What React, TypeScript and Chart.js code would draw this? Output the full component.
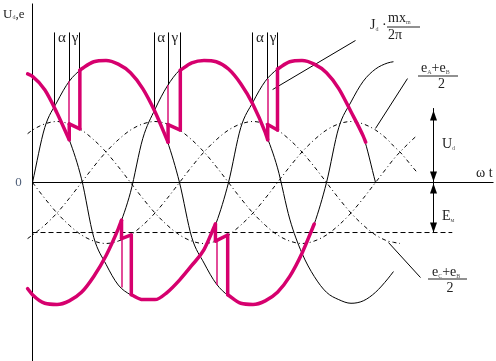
import React, { useEffect, useRef } from "react";
import { Chart, registerables } from "chart.js";
Chart.register(...registerables);

// ωt in electrical degrees (grid of readings)
const wt = [-6, 0, 15, 30, 45, 60, 75, 90, 105, 120, 135, 150, 165, 180, 195, 210, 225, 240, 255, 270, 285, 300, 315, 330, 345, 360, 375, 390, 405, 420, 435, 442, 450, 465, 470];

// phase voltages (relative to amplitude)
const eA = [null, 0, .45, .66, .83, .93, .99, 1.0, .97, .90, .77, .58, .34, 0, -.45, -.66, -.83, -.93, -.99, -1.0, -.97, -.90, -.77, -.58, -.34, 0, .45, .66, .83, .93, .98, .99, null, null, null];
const eB = [-.87, -.92, -.99, -1.0, -.97, -.90, -.77, -.60, -.38, -.08, .36, .60, .79, .92, .98, 1.0, .99, .93, .81, .64, .41, .12, -.30, -.58, -.77, -.90, -.96, -.99, -.97, -.90, -.79, -.73, null, null, null];
const eC = [.89, .87, .76, .57, .35, .03, -.45, -.67, -.84, -.92, -.96, -.96, -.90, -.80, -.68, -.55, -.33, 0, .45, .66, .83, .93, .99, 1.0, .97, .90, .77, .58, .38, 0, null, null, null, null, null];

// half sums (commutation voltages)
const halfAC = [.40, .43, .48, .50, .48, .43, .35, .25, .13, 0, -.13, -.25, -.35, -.43, -.48, -.50, -.48, -.43, -.35, -.25, -.13, 0, .13, .25, .35, .43, .48, .50, .48, .43, .35, .30, .25, .13, .09];
const halfAB = [-.46, -.43, -.35, -.25, -.13, 0, .13, .25, .35, .43, .48, .50, .48, .43, .35, .25, .13, 0, -.13, -.25, -.35, -.43, -.48, -.50, -.48, -.43, -.35, -.25, -.13, 0, .13, .19, .25, .35, .38];
const halfBC = [null, 0, -.13, -.25, -.35, -.43, -.48, -.50, -.48, -.43, -.35, -.25, -.13, 0, .13, .25, .35, .43, .48, .50, .48, .43, .35, .25, .13, 0, -.13, -.25, -.35, -.43, -.48, -.49, -.50, null, null];

// rectified output (upper / lower envelopes with commutation notches)
const pinkTopDeg = [-6, 0, 15, 30, 45, 45, 58, 58, 60, 75, 90, 105, 120, 135, 150, 166, 166, 181, 181, 195, 210, 225, 240, 255, 270, 285, 288, 288, 300, 300, 315, 330, 345, 360, 375, 390, 405, 408];
const pinkTopVal = [.89, .87, .76, .57, .35, .48, .44, .92, .93, .99, 1.0, .97, .90, .77, .58, .33, .475, .43, .92, .98, 1.0, .99, .93, .81, .64, .41, .35, .475, .43, .93, .99, 1.0, .97, .90, .77, .58, .38, .33];
const pinkLowDeg = [-6, 0, 15, 30, 45, 60, 75, 90, 105, 109, 109, 121, 121, 135, 150, 165, 180, 195, 210, 224, 224, 239, 239, 255, 270, 285, 300, 315, 330, 345];
const pinkLowVal = [-.87, -.92, -.99, -1.0, -.97, -.90, -.77, -.60, -.38, -.31, -.46, -.43, -.92, -.96, -.96, -.90, -.80, -.68, -.55, -.34, -.48, -.43, -.92, -.99, -1.0, -.97, -.90, -.77, -.58, -.34];

// thin pink firing lines
const thinPinkDeg = [45, 166, 288, 109, 226];
const thinPinkFrom = [.83, .80, .85, -.46, -.48];
const thinPinkTo = [.48, .48, .475, -.86, -.84];

// α / γ marker lines: natural commutation, firing, end of overlap
const alphaDeg = [27, 149, 269];
const fireDeg = [45, 166, 288];
const endDeg = [58, 181, 300];
const alphaBottom = [.62, .59, .63];
const fireBottom = [.83, .80, .85];
const endBottom = [.92, .92, .93];
const markTop = 1.23;

// levels
const levelUd = 0.59;
const levelE = -0.41;
const arrowDeg = 491;
const axisTop = 1.467;
const axisBottom = -1.47;
const axisEnd = 564.5;
const dashEnd = 514;

// leader lines [x1, x2], [y1, y2]
const leaderJ = [[294, 395.5], [.762, 1.164]];
const leaderAB = [[420, 459.2], [.443, .852]];
const leaderCB = [[435.9, 475.1], [-.492, -.779]];

const PINK = "#d6006e";
const SERIF = '"Liberation Serif", "Times New Roman", serif';

function pts(xs: number[], ys: (number | null)[]) {
  return xs.map((x, i) => ({ x, y: ys[i] })).filter((p) => p.y !== null && p.y !== undefined);
}

function runs(xs: number[], ys: number[]) {
  const out: { x: number; y: number }[][] = [];
  let run = [{ x: xs[0], y: ys[0] }];
  for (let i = 1; i < xs.length; i++) {
    const p = { x: xs[i], y: ys[i] };
    if (xs[i] === xs[i - 1]) {
      out.push(run);
      out.push([{ x: xs[i - 1], y: ys[i - 1] }, p]);
      run = [p];
    } else run.push(p);
  }
  out.push(run);
  return out;
}

function line(data: any[], extra: any = {}) {
  return {
    data,
    showLine: true,
    pointRadius: 0,
    pointHoverRadius: 0,
    borderColor: "#000",
    borderWidth: 1,
    fill: false,
    tension: 0,
    ...extra,
  };
}

function rich(ctx: CanvasRenderingContext2D, parts: [string, number, number?][], x: number, y: number) {
  let cx = x;
  for (const [t, s, dy] of parts) {
    ctx.font = `${s}px ${SERIF}`;
    ctx.fillStyle = s < 9 ? "#555" : "#222";
    ctx.fillText(t, cx, y + (dy || 0));
    cx += ctx.measureText(t).width;
  }
}

const crisp = (v: number) => Math.round(v - 0.5) + 0.5;

function vline(chart: any, d: number, a: number, b: number, color: string, w = 1, snap = true) {
  const { ctx, scales } = chart;
  const raw = scales.x.getPixelForValue(d);
  const x = snap ? crisp(raw) : Math.round(raw);
  ctx.save();
  ctx.lineWidth = w;
  ctx.strokeStyle = color;
  ctx.setLineDash([]);
  ctx.beginPath();
  ctx.moveTo(x, scales.y.getPixelForValue(a));
  ctx.lineTo(x, scales.y.getPixelForValue(b));
  ctx.stroke();
  ctx.restore();
}

const markers = {
  id: "markers",
  beforeDatasetsDraw(chart: any) {
    for (let i = 0; i < alphaDeg.length; i++) {
      vline(chart, alphaDeg[i], markTop, alphaBottom[i], "#000");
      vline(chart, fireDeg[i], markTop, fireBottom[i], "#000");
      vline(chart, endDeg[i], markTop, endBottom[i], "#000");
    }
    vline(chart, 0, axisTop, axisBottom, "#000");
    vline(chart, arrowDeg, levelUd + 0.02, levelE, "#000");
  },
};

const annot = {
  id: "annot",
  afterDatasetsDraw(chart: any) {
    thinPinkDeg.forEach((d, i) => vline(chart, d, thinPinkFrom[i], thinPinkTo[i], PINK, 1.4, false));
    const { ctx, scales } = chart;
    const px = (v: number) => scales.x.getPixelForValue(v);
    const py = (v: number) => scales.y.getPixelForValue(v);
    ctx.save();
    ctx.fillStyle = "#000";
    const head = (x: number, tip: number, dir: number) => {
      ctx.beginPath();
      ctx.moveTo(x, tip);
      ctx.lineTo(x - 3.5, tip - dir * 10);
      ctx.lineTo(x + 3.5, tip - dir * 10);
      ctx.closePath();
      ctx.fill();
    };
    const ax = crisp(px(arrowDeg));
    head(ax, py(levelUd), -1);
    head(ax, py(0) - 1, 1);
    head(ax, py(0) + 1, -1);
    head(ax, py(levelE), 1);

    ctx.textBaseline = "alphabetic";
    ctx.textAlign = "left";
    rich(ctx, [["U", 13], ["d", 6, 1], [",", 13], ["e", 13]], 3, 18);
    ctx.font = `13px ${SERIF}`;
    ctx.fillStyle = "#50607a";
    ctx.textAlign = "center";
    ctx.textBaseline = "middle";
    ctx.fillText("0", 18.5, py(0));
    ctx.textBaseline = "alphabetic";
    ctx.fillStyle = "#222";
    ctx.font = `15px ${SERIF}`;
    for (let i = 0; i < alphaDeg.length; i++) {
      ctx.fillText("α", (px(alphaDeg[i]) + px(fireDeg[i])) / 2, 42);
      ctx.fillText("γ", (px(fireDeg[i]) + px(endDeg[i])) / 2 + 0.5, 42);
    }
    ctx.textAlign = "left";
    rich(ctx, [["ω", 14], [" ", 14], ["t", 14]], 476, 177);
    rich(ctx, [["J", 14], ["d", 6, 2], [" ·", 14]], 370, 29);
    rich(ctx, [["mx", 14], ["m", 6, 2]], 388, 22);
    ctx.fillStyle = "#222";
    ctx.fillRect(387, 26.5, 33, 1);
    rich(ctx, [["2π", 14]], 388, 39);
    rich(ctx, [["e", 14], ["A", 6, 2], ["+", 14], ["e", 14], ["B", 6, 2]], 421, 72);
    ctx.fillStyle = "#222";
    ctx.fillRect(418, 75.5, 40, 1);
    ctx.font = `14px ${SERIF}`;
    ctx.textAlign = "center";
    ctx.fillText("2", 441.5, 88);
    ctx.textAlign = "left";
    rich(ctx, [["U", 14], ["d", 6, 2]], 442, 148);
    rich(ctx, [["E", 14], ["м", 6, 2]], 442, 220);
    rich(ctx, [["e", 14], ["C", 6, 2], ["+", 14], ["e", 14], ["B", 6, 2]], 432, 276);
    ctx.fillStyle = "#222";
    ctx.fillRect(428, 278.5, 39, 1);
    ctx.font = `14px ${SERIF}`;
    ctx.textAlign = "center";
    ctx.fillText("2", 450, 292);
    ctx.restore();
  },
};

export default function App() {
  const ref = useRef<HTMLCanvasElement>(null);
  useEffect(() => {
    const datasets: any[] = [];
    const curve = { cubicInterpolationMode: "monotone" };
    for (const r of runs(pinkTopDeg, pinkTopVal))
      datasets.push(line(r, { ...curve, borderColor: PINK, borderWidth: 3.5, borderCapStyle: "round", borderJoinStyle: "round" }));
    for (const r of runs(pinkLowDeg, pinkLowVal))
      datasets.push(line(r, { ...curve, borderColor: PINK, borderWidth: 3.5, borderCapStyle: "round", borderJoinStyle: "round" }));
    for (const e of [eA, eB, eC]) datasets.push(line(pts(wt, e), { ...curve }));
    for (const h of [halfAC, halfAB, halfBC])
      datasets.push(line(pts(wt, h), { ...curve, borderDash: [4, 3, 1, 3] }));
    datasets.push(line([{ x: 0, y: 0 }, { x: axisEnd, y: 0 }]));
    datasets.push(line([{ x: 0, y: levelE }, { x: dashEnd, y: levelE }], { borderDash: [5, 3] }));
    for (const l of [leaderJ, leaderAB, leaderCB])
      datasets.push(line([{ x: l[0][0], y: l[1][0] }, { x: l[0][1], y: l[1][1] }]));

    const chart = new Chart(ref.current!, {
      type: "scatter",
      data: { datasets },
      options: {
        animation: false,
        responsive: false,
        devicePixelRatio: 1,
        layout: { padding: 0 },
        plugins: { legend: { display: false }, tooltip: { enabled: false } },
        events: [],
        scales: {
          x: { type: "linear", min: -39.796, max: 567.55, display: false },
          y: { type: "linear", min: -1.46311, max: 1.4959, display: false },
        },
      },
      plugins: [markers, annot],
    } as any);
    return () => chart.destroy();
  }, []);
  return (
    <div style={{ position: "absolute", left: 0, top: 0, width: 496, height: 361, background: "#fff" }}>
      <canvas ref={ref} width={496} height={361} style={{ display: "block" }} />
    </div>
  );
}
